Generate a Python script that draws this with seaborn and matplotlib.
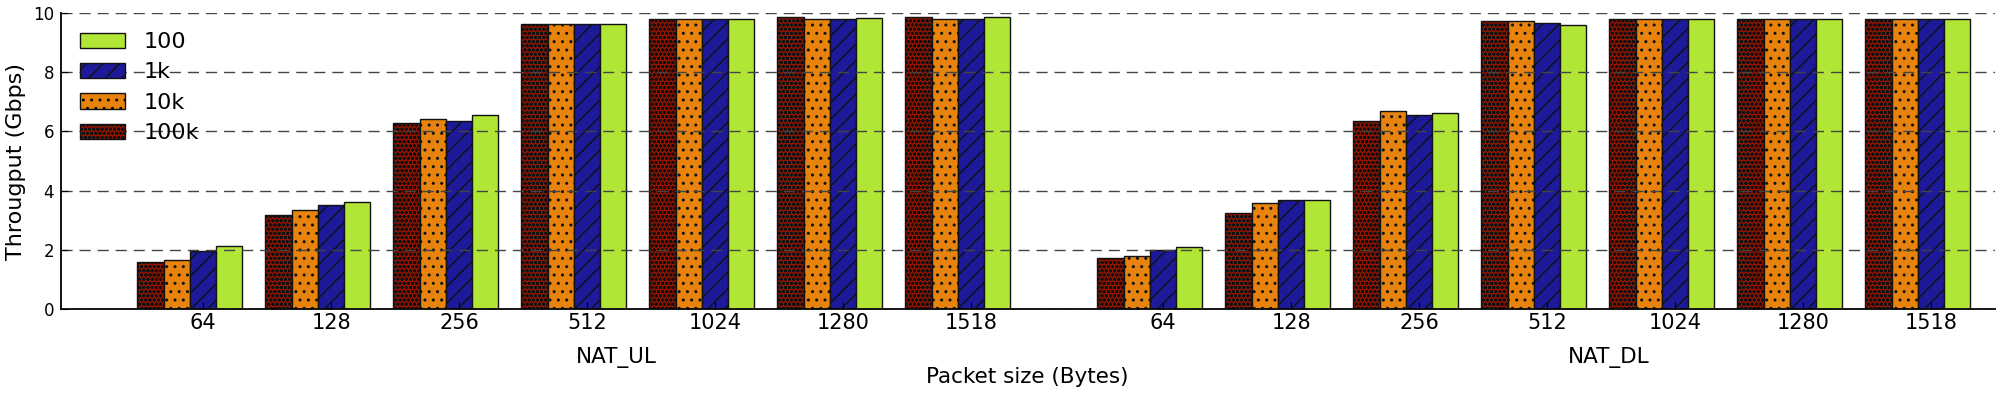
import numpy as np
import pandas as pd
import matplotlib
matplotlib.use("Agg")
import matplotlib.pyplot as plt
import seaborn as sns

# packet sizes (x tick labels) and the two scenarios
sizes = ["64", "128", "256", "512", "1024", "1280", "1518"]
groups = ["NAT_UL", "NAT_DL"]
loads = ["100k", "10k", "1k", "100"]   # left-to-right bar order in each cluster

# throughput in Gbps
ul_100k = [1.58, 3.17, 6.28, 9.63, 9.80, 9.88, 9.88]
ul_10k = [1.65, 3.34, 6.41, 9.63, 9.80, 9.80, 9.80]
ul_1k = [1.96, 3.51, 6.35, 9.63, 9.80, 9.80, 9.80]
ul_100 = [2.12, 3.61, 6.55, 9.63, 9.80, 9.83, 9.86]

dl_100k = [1.71, 3.24, 6.35, 9.73, 9.80, 9.80, 9.80]
dl_10k = [1.78, 3.59, 6.69, 9.73, 9.80, 9.80, 9.80]
dl_1k = [2.00, 3.68, 6.55, 9.66, 9.80, 9.80, 9.80]
dl_100 = [2.09, 3.68, 6.62, 9.59, 9.80, 9.80, 9.80]

colors = {"100k": "#961400", "10k": "#e8840e", "1k": "#1c1a98", "100": "#b2e636"}
hatches = {"100k": "oooo", "10k": "..", "1k": "//", "100": ""}

values = {
    ("NAT_UL", "100k"): ul_100k, ("NAT_UL", "10k"): ul_10k,
    ("NAT_UL", "1k"): ul_1k, ("NAT_UL", "100"): ul_100,
    ("NAT_DL", "100k"): dl_100k, ("NAT_DL", "10k"): dl_10k,
    ("NAT_DL", "1k"): dl_1k, ("NAT_DL", "100"): dl_100,
}

bar_w = 0.205
group_gap = 7.5          # x offset of the second scenario
ticks = np.concatenate([np.arange(len(sizes)), np.arange(len(sizes)) + group_gap])

rows = []
for g_i, g in enumerate(groups):
    for l_i, load in enumerate(loads):
        for s_i, s in enumerate(sizes):
            tick = s_i + g_i * group_gap
            rows.append({"group": g, "load": load, "size": s,
                         "pos": tick + (l_i - 2) * bar_w,
                         "gbps": values[(g, load)][s_i]})
df = pd.DataFrame(rows)

plt.rcParams["font.family"] = ["DejaVu Sans"]
plt.rcParams["hatch.linewidth"] = 1.0

fig = plt.figure(figsize=(20, 4), dpi=100)
ax = fig.add_axes([0.0305, 0.2275, 0.967, 0.74])

for load in loads:
    sub = df[df["load"] == load].sort_values("pos")
    sns.barplot(data=sub, x="pos", y="gbps", native_scale=True, width=bar_w,
                color=colors[load], hatch=hatches[load], edgecolor="#111111",
                linewidth=1.0, saturation=1, errorbar=None, label=load, ax=ax)

ax.set_xlim(-1.11, 14.0)
ax.set_ylim(0, 10)
ax.set_xticks(ticks)
ax.set_xticklabels(sizes * 2, fontsize=15)
ax.set_yticks(range(0, 11, 2))
ax.tick_params(axis="y", labelsize=12, direction="in", length=5, pad=5)
ax.tick_params(axis="x", direction="in", length=5, pad=3)
ax.tick_params(top=False, right=False)

ax.yaxis.grid(True, linestyle=(0, (8, 5)), color="#444444", linewidth=1.0)
ax.xaxis.grid(False)
ax.set_axisbelow(False)
for side in ["top", "right"]:
    ax.spines[side].set_visible(False)
for side in ["left", "bottom"]:
    ax.spines[side].set_linewidth(1.3)
    ax.spines[side].set_color("black")

ax.set_xlabel("")
ax.set_ylabel("Througput (Gbps)", fontsize=16, va="center")
ax.yaxis.set_label_coords(-0.0235, 0.5)

# scenario labels under each cluster of packet sizes
trans = ax.get_xaxis_transform()
ax.text(3.23, -0.165, "NAT_UL", transform=trans, ha="center", va="center", fontsize=15.5)
ax.text(10.98, -0.165, "NAT_DL", transform=trans, ha="center", va="center", fontsize=15.5)
fig.text(0.5135, 1 - 377 / 400, "Packet size (Bytes)", ha="center", va="center", fontsize=15.5)

handles, labels = ax.get_legend_handles_labels()
ax.legend(handles[::-1], labels[::-1], loc="upper left", frameon=False, fontsize=16,
          handlelength=2.05, handleheight=0.67, labelspacing=0.47,
          handletextpad=0.82, borderaxespad=0.45)

fig.savefig("out.png", dpi=100)
